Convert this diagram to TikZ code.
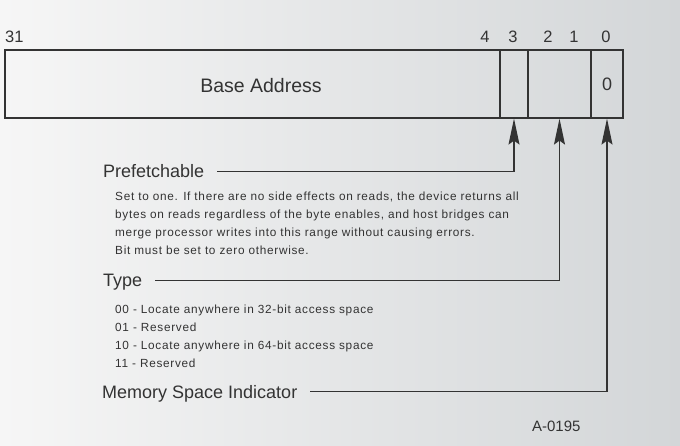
\documentclass[tikz,border=0pt]{standalone}
\usepackage{fontspec}
\setmainfont{Liberation Sans}
\newfontfamily\notefont[LetterSpace=6]{Liberation Sans}
\usetikzlibrary{arrows.meta, positioning}

\definecolor{ink}{HTML}{333333}
\definecolor{bgleft}{HTML}{F6F6F6}
\definecolor{bgright}{HTML}{D3D6D8}

\tikzset{
  cell/.style={draw=ink, line width=1.2pt, minimum height=68pt, inner sep=0pt},
  bitnum/.style={anchor=base, text=ink, inner sep=0pt, font=\fontsize{16.5}{20}\selectfont},
  field/.style={anchor=base west, inner sep=0pt, text height=13pt, text depth=0pt,
    text=ink, font=\fontsize{18}{20}\selectfont},
  note/.style={anchor=north west, inner sep=0pt, align=left, text=ink,
    font=\notefont\fontsize{11.8}{18}\selectfont},
  pointer/.style={draw=ink, line width=1.2pt, -{Stealth[length=26pt,width=11pt,inset=4pt]}},
}

\begin{document}
\begin{tikzpicture}[x=1pt, y=-1pt]
  \shade[left color=bgleft, right color=bgright] (0,0) rectangle (680,446);

  % register fields
  \node[cell, minimum width=495pt] (base) at (252.5,84) {};
  \node[cell, minimum width=28pt]  (bit3) at (514,84) {};
  \node[cell, minimum width=63pt]  (typ)  at (559.5,84) {};
  \node[cell, minimum width=32pt]  (bit0) at (607,84) {};
  \node[anchor=base, text=ink, font=\fontsize{19.5}{22}\selectfont] (bname) at (261,93) {Base Address};
  \node[anchor=base, text=ink, font=\fontsize{18}{20}\selectfont] (bzero) at (607,91) {0};

  % bit numbers
  \node[bitnum, anchor=base west] (b31) at (5,43) {31};
  \node[bitnum] (b4) at (485,43) {4};
  \node[bitnum] (b3) at (513,43) {3};
  \node[bitnum] (b2) at (548,43) {2};
  \node[bitnum] (b1) at (574,43) {1};
  \node[bitnum] (b0) at (606,43) {0};

  % descriptions
  \node[field] (pf) at (103,178) {Prefetchable};
  \node[note] (pfnote) at (115,191.5) {Set to one. If there are no side effects on reads, the device returns all\\
    bytes on reads regardless of the byte enables, and host bridges can\\
    merge processor writes into this range without causing errors.\\
    Bit must be set to zero otherwise.};

  \node[field] (ty) at (103,287) {Type};
  \node[note] (tynote) at (115,304.5) {00 - Locate anywhere in 32-bit access space\\
    01 - Reserved\\
    10 - Locate anywhere in 64-bit access space\\
    11 - Reserved};

  \node[field] (msi) at (102,398) {Memory Space Indicator};

  \node[anchor=base east, text=ink, font=\fontsize{15}{18}\selectfont] (fig) at (584,431) {A-0195};

  % pointers
  \draw[pointer] ([xshift=13pt]pf.east) -| (bit3.south);
  \draw[pointer] ([xshift=13pt]ty.east) -| (typ.south);
  \draw[pointer] ([xshift=13pt]msi.east) -| (bit0.south);
\end{tikzpicture}
\end{document}
